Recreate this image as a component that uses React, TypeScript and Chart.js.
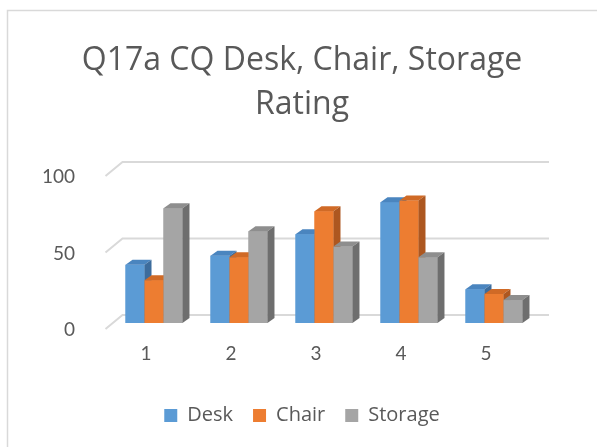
import { useEffect, useRef } from "react";
import { Chart, registerables } from "chart.js";
Chart.register(...registerables);

const categories = ["1", "2", "3", "4", "5"];
const deskValues = [38, 44, 58, 79, 22];
const chairValues = [28, 43, 73, 80, 19];
const storageValues = [75, 60, 50, 43, 15];
const yTickValues = [0, 50, 100];
const titleLines = ["Q17a CQ Desk, Chair, Storage", "Rating"];

const TEXT = "#595959";
const FONT = "Lato";
const faceColors: Record<string, { front: string; top: string; side: string }> = {
  Desk: { front: "#5b9bd5", top: "#4a85bf", side: "#3d6c9c" },
  Chair: { front: "#ed7d31", top: "#d06a26", side: "#ad5720" },
  Storage: { front: "#a5a5a5", top: "#8e8e8e", side: "#6e6e6e" },
};
const DX = 7;
const DY = 5;

const threeD = {
  id: "threeD",
  beforeDraw(chart: any) {
    const ctx = chart.ctx;
    ctx.save();
    ctx.strokeStyle = "#d9d9d9";
    ctx.lineWidth = 1.5;
    ctx.beginPath();
    ctx.moveTo(7.5, 447);
    ctx.lineTo(7.5, 10.5);
    ctx.lineTo(597, 10.5);
    ctx.stroke();
    ctx.restore();
  },
  beforeDatasetsDraw(chart: any) {
    const ctx = chart.ctx;
    const ys = chart.scales.y;
    const left = chart.chartArea.left;
    ctx.save();
    ctx.strokeStyle = "#d9d9d9";
    ctx.lineWidth = 2;
    for (const v of yTickValues) {
      const y = ys.getPixelForValue(v);
      ctx.beginPath();
      ctx.moveTo(left - 6, y + 6);
      ctx.lineTo(left + 11, y - 8);
      ctx.lineTo(549, y - 8);
      ctx.stroke();
    }
    ctx.restore();
  },
  afterDatasetsDraw(chart: any) {
    const ctx = chart.ctx;
    ctx.save();
    chart.data.datasets.forEach((ds: any, di: number) => {
      const meta = chart.getDatasetMeta(di);
      const c = faceColors[ds.label];
      for (const el of meta.data) {
        const { x, y, base, width } = el.getProps(["x", "y", "base", "width"], true);
        const l = x - width / 2;
        const r = x + width / 2;
        ctx.fillStyle = c.front;
        ctx.fillRect(l, y, width, base - y);
        ctx.fillStyle = c.top;
        ctx.beginPath();
        ctx.moveTo(l, y);
        ctx.lineTo(l + DX, y - DY);
        ctx.lineTo(r + DX, y - DY);
        ctx.lineTo(r, y);
        ctx.closePath();
        ctx.fill();
        ctx.fillStyle = c.side;
        ctx.beginPath();
        ctx.moveTo(r, y);
        ctx.lineTo(r + DX, y - DY);
        ctx.lineTo(r + DX, base - DY);
        ctx.lineTo(r, base);
        ctx.closePath();
        ctx.fill();
      }
    });
    ctx.restore();
  },
};

export default function App() {
  const ref = useRef<HTMLCanvasElement | null>(null);
  useEffect(() => {
    if (!ref.current) return;
    const chart = new Chart(ref.current, {
      type: "bar",
      data: {
        labels: categories,
        datasets: [
          { label: "Desk", data: deskValues, backgroundColor: "#5b9bd5" },
          { label: "Chair", data: chairValues, backgroundColor: "#ed7d31" },
          { label: "Storage", data: storageValues, backgroundColor: "#a5a5a5" },
        ],
      },
      options: {
        responsive: true,
        maintainAspectRatio: false,
        animation: false,
        datasets: { bar: { categoryPercentage: 0.67, barPercentage: 1 } },
        layout: { padding: { left: 7, right: 0, top: 0, bottom: 11.5 } },
        plugins: {
          title: {
            display: true,
            text: titleLines,
            color: TEXT,
            font: { family: "Open Sans", size: 32, weight: "normal", lineHeight: 1.375 },
            padding: { top: 39, bottom: 43 },
          },
          legend: {
            position: "bottom",
            labels: {
              boxWidth: 13,
              boxHeight: 13,
              color: TEXT,
              font: { family: "Open Sans", size: 20 },
              padding: 20,
            },
          },
          tooltip: { enabled: false },
        },
        scales: {
          x: {
            grid: { display: false },
            border: { display: false },
            ticks: { color: TEXT, font: { family: FONT, size: 19 }, padding: 11.6, labelOffset: -8 },
            afterFit: (s: any) => {
              s.height = 62.5;
            },
          },
          y: {
            min: 0,
            max: 100,
            grid: { display: false },
            border: { display: false },
            ticks: { stepSize: 50, color: TEXT, font: { family: FONT, size: 19 }, padding: 28.5, labelOffset: 7 },
            afterFit: (s: any) => {
              s.width = 104.5;
            },
          },
          y2: {
            position: "right",
            grid: { display: false },
            border: { display: false },
            ticks: { display: false },
            afterFit: (s: any) => {
              s.width = 60.5;
            },
          },
        },
      },
      plugins: [threeD],
    } as any);
    return () => chart.destroy();
  }, []);
  return (
    <div style={{ position: "fixed", left: 0, top: 0, width: 597, height: 447, background: "#fff" }}>
      <canvas ref={ref} />
    </div>
  );
}
